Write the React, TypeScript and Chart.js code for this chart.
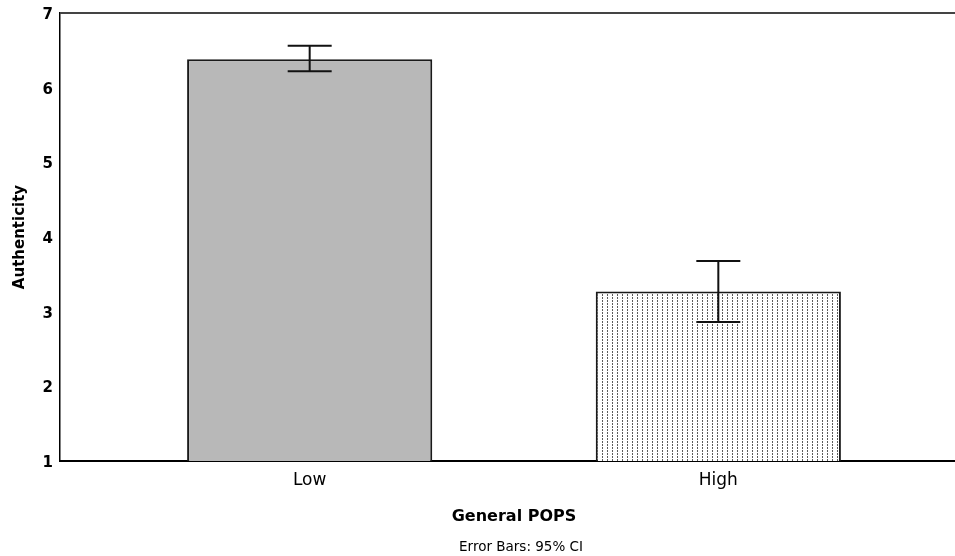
import React, { useEffect, useRef } from "react";
import { Chart, registerables } from "chart.js";

Chart.register(...registerables);

// ---- Data ----
const categories = ["Low", "High"];
const xPositions = [0, 1];
const means = [6.38, 3.27];
const ciLower = [6.22, 2.86];
const ciUpper = [6.56, 3.68];
const yTicks = [1, 2, 3, 4, 5, 6, 7];
const footnote = "Error Bars: 95% CI";

const FONT = "'DejaVu Sans', sans-serif";
const CAP_HALF = 22;

const errorBarPlugin = {
  id: "errorBars",
  afterDatasetsDraw(chart: any) {
    const { ctx, scales } = chart;
    const x = scales.x;
    const y = scales.y;
    ctx.save();
    ctx.strokeStyle = "#111";
    ctx.lineWidth = 2;
    xPositions.forEach((xv, i) => {
      const px = x.getPixelForValue(xv);
      const top = y.getPixelForValue(ciUpper[i]);
      const bot = y.getPixelForValue(ciLower[i]);
      ctx.beginPath();
      ctx.moveTo(px, top);
      ctx.lineTo(px, bot);
      ctx.moveTo(px - CAP_HALF, top);
      ctx.lineTo(px + CAP_HALF, top);
      ctx.moveTo(px - CAP_HALF, bot);
      ctx.lineTo(px + CAP_HALF, bot);
      ctx.stroke();
    });
    ctx.restore();
  },
};

const frameAndNotePlugin = {
  id: "frameAndNote",
  afterDraw(chart: any) {
    const { ctx, chartArea, height } = chart;
    ctx.save();
    ctx.strokeStyle = "#444";
    ctx.lineWidth = 2;
    ctx.beginPath();
    ctx.moveTo(chartArea.left, chartArea.top);
    ctx.lineTo(chartArea.right, chartArea.top);
    ctx.stroke();
    ctx.fillStyle = "#000";
    ctx.font = `13.5px ${FONT}`;
    ctx.textAlign = "center";
    ctx.textBaseline = "middle";
    ctx.fillText(footnote, (chartArea.left + chartArea.right) / 2 + 7, height - 9);
    ctx.restore();
  },
};

export default function App() {
  const canvasRef = useRef<HTMLCanvasElement | null>(null);

  useEffect(() => {
    const canvas = canvasRef.current;
    if (!canvas) return;
    const ctx2d = canvas.getContext("2d")!;

    const pc = document.createElement("canvas");
    pc.width = 5;
    pc.height = 3;
    const p = pc.getContext("2d")!;
    p.fillStyle = "#ffffff";
    p.fillRect(0, 0, 5, 3);
    p.fillStyle = "#5c5c5c";
    p.fillRect(2, 0, 1, 2);
    const dotted = ctx2d.createPattern(pc, "repeat");

    const chart = new Chart(canvas, {
      type: "bar",
      data: {
        datasets: [
          {
            data: xPositions.map((xv, i) => ({ x: xv, y: means[i] })),
            backgroundColor: ["#b8b8b8", dotted as any],
            borderColor: "#1a1a1a",
            borderWidth: 2,
            borderSkipped: "start",
            categoryPercentage: 1,
            barPercentage: 0.6,
          },
        ],
      },
      options: {
        animation: false,
        responsive: true,
        maintainAspectRatio: false,
        layout: { padding: { top: 13, left: 0, right: 0, bottom: 0 } },
        plugins: {
          legend: { display: false },
          tooltip: { enabled: false },
          title: { display: false },
        },
        scales: {
          x: {
            type: "linear",
            min: -0.611,
            max: 1.611,
            offset: false,
            grid: { display: false, drawTicks: false, offset: false },
            border: { display: true, color: "#000", width: 2 },
            afterBuildTicks: (scale: any) => {
              scale.ticks = xPositions.map((v) => ({ value: v }));
            },
            afterFit: (scale: any) => {
              scale.height = 95;
              scale.paddingLeft = 0;
              scale.paddingRight = 0;
            },
            ticks: {
              padding: 9,
              color: "#000",
              font: { family: FONT, size: 17 },
              callback: (value: any) => {
                const idx = xPositions.indexOf(Number(value));
                return idx >= 0 ? categories[idx] : "";
              },
            },
            title: {
              display: true,
              text: "General POPS",
              color: "#000",
              font: { family: FONT, size: 16, weight: "bold" },
              padding: { top: 0, bottom: 30 },
            },
          },
          y: {
            type: "linear",
            min: 1,
            max: 7,
            grid: { display: false, drawTicks: false },
            border: { display: true, color: "#000", width: 1.5 },
            afterBuildTicks: (scale: any) => {
              scale.ticks = yTicks.map((v) => ({ value: v }));
            },
            afterFit: (scale: any) => {
              scale.width = 60;
              scale.paddingTop = 0;
              scale.paddingBottom = 0;
            },
            ticks: {
              padding: 7,
              labelOffset: 2,
              color: "#000",
              font: { family: FONT, size: 15, weight: "bold" },
            },
            title: {
              display: true,
              text: "Authenticity",
              color: "#000",
              font: { family: FONT, size: 15, weight: "bold" },
              padding: { top: 11, bottom: 0 },
            },
          },
        },
      },
      plugins: [errorBarPlugin, frameAndNotePlugin],
    });

    return () => chart.destroy();
  }, []);

  return (
    <div
      style={{
        position: "absolute",
        left: 0,
        top: 0,
        width: 955,
        height: 556,
        overflow: "hidden",
        background: "#fff",
      }}
    >
      <div style={{ width: 968, height: 556, position: "relative" }}>
        <canvas ref={canvasRef} />
      </div>
    </div>
  );
}
